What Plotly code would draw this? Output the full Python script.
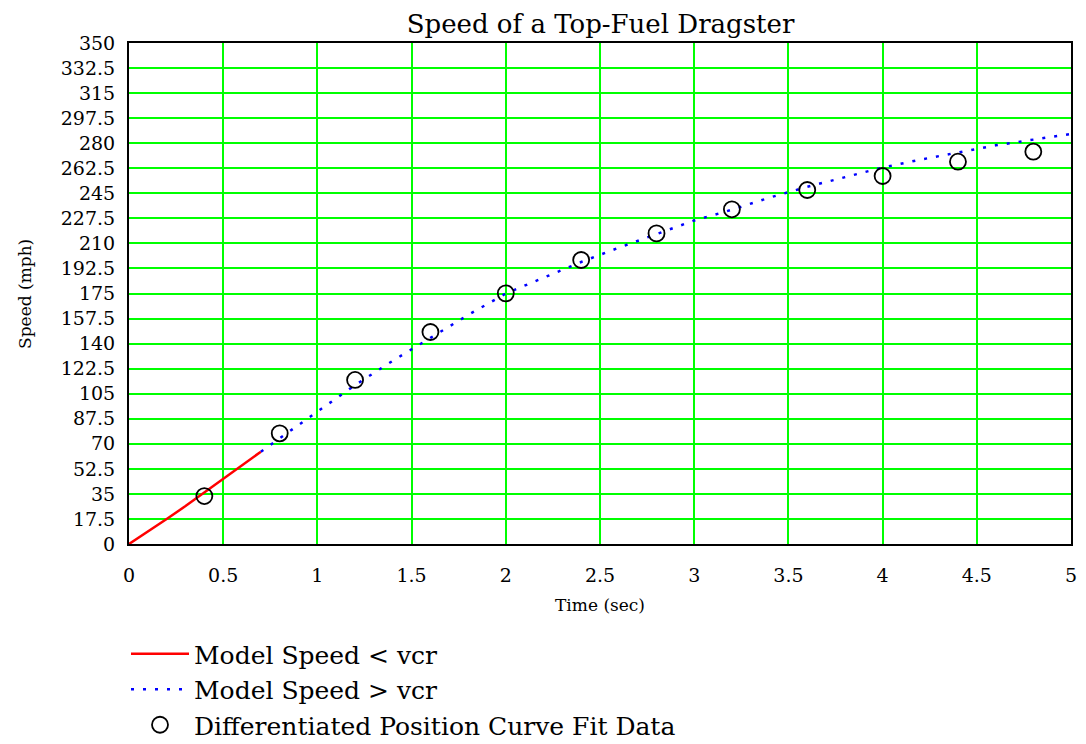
import plotly.graph_objects as go

# ---- data ----
t_model_low = [0.0, 0.1, 0.2, 0.3, 0.4, 0.5, 0.6, 0.7]
v_model_low = [0.0, 8.5, 17.5, 26.5, 36.0, 45.0, 54.5, 64.5]

t_model_high = [0.7, 0.8, 1.0, 1.2, 1.4, 1.6, 1.8, 2.0, 2.2, 2.4, 2.6, 2.8,
                3.0, 3.2, 3.4, 3.6, 3.8, 4.0, 4.2, 4.4, 4.6, 4.8, 5.0]
v_model_high = [64.5, 74.0, 92.5, 111.0, 128.0, 144.0, 160.0, 175.0, 186.0,
                197.0, 207.0, 216.5, 226.0, 233.5, 242.0, 249.5, 256.0, 263.0,
                268.5, 273.5, 278.5, 282.5, 286.5]

t_data = [0.4, 0.8, 1.2, 1.6, 2.0, 2.4, 2.8, 3.2, 3.6, 4.0, 4.4, 4.8]
v_data = [33.5, 77.3, 114.6, 148.1, 175.1, 198.4, 217.0, 233.8, 247.3, 257.1, 267.1, 274.1]

x_ticks = [0, 0.5, 1, 1.5, 2, 2.5, 3, 3.5, 4, 4.5, 5]
x_tick_labels = ["0", "0.5", "1", "1.5", "2", "2.5", "3", "3.5", "4", "4.5", "5"]
y_ticks = [0, 17.5, 35, 52.5, 70, 87.5, 105, 122.5, 140, 157.5, 175, 192.5,
           210, 227.5, 245, 262.5, 280, 297.5, 315, 332.5, 350]
y_tick_labels = ["0", "17.5", "35", "52.5", "70", "87.5", "105", "122.5", "140",
                 "157.5", "175", "192.5", "210", "227.5", "245", "262.5", "280",
                 "297.5", "315", "332.5", "350"]

FONT = "DejaVu Serif"

fig = go.Figure()
fig.add_trace(go.Scatter(
    x=t_model_low, y=v_model_low, mode="lines",
    name="Model Speed < vcr",
    line=dict(color="#FF0000", width=2.5),
))
fig.add_trace(go.Scatter(
    x=t_model_high, y=v_model_high, mode="lines",
    name="Model Speed > vcr",
    line=dict(color="#0000FF", width=2.5, dash="3px,9px"),
))
fig.add_trace(go.Scatter(
    x=t_data, y=v_data, mode="markers",
    name="Differentiated Position Curve Fit Data",
    marker=dict(symbol="circle-open", size=16, color="black",
                line=dict(color="black", width=1.8)),
))

fig.update_layout(
    width=1086, height=744,
    margin=dict(l=129, r=15, t=43, b=200, autoexpand=False),
    paper_bgcolor="white", plot_bgcolor="white",
    font=dict(family=FONT, color="black"),
    title=dict(text="Speed of a Top-Fuel Dragster", x=0.553, xanchor="center",
               y=1 - 24 / 744, yanchor="middle",
               font=dict(family=FONT, size=26, color="black")),
    showlegend=True,
    legend=dict(
        xref="container", yref="container",
        x=126 / 1086, y=1 - 631 / 744, xanchor="left", yanchor="top",
        font=dict(family=FONT, size=25, color="black"),
        bgcolor="rgba(0,0,0,0)", itemwidth=58, tracegroupgap=0,
    ),
    annotations=[dict(
        text="Speed (mph)", textangle=-90,
        xref="paper", yref="paper", x=-0.111, y=0.5,
        xanchor="center", yanchor="middle", showarrow=False,
        font=dict(family=FONT, size=17, color="black"),
    )],
)

fig.update_xaxes(
    range=[0, 5], tickvals=x_ticks, ticktext=x_tick_labels,
    showgrid=True, gridcolor="#00FF00", gridwidth=2,
    zeroline=False, showline=True, linecolor="black", linewidth=2, mirror=True,
    ticks="", ticklabelstandoff=13,
    tickfont=dict(family=FONT, size=19, color="black"),
    title=dict(text="Time (sec)", font=dict(family=FONT, size=17, color="black"),
               standoff=14),
)
fig.update_yaxes(
    range=[0, 350], tickvals=y_ticks, ticktext=y_tick_labels,
    showgrid=True, gridcolor="#00FF00", gridwidth=2,
    zeroline=False, showline=True, linecolor="black", linewidth=2, mirror=True,
    ticks="", ticklabelstandoff=8,
    tickfont=dict(family=FONT, size=19, color="black"),
)

fig.write_html("out.html")
